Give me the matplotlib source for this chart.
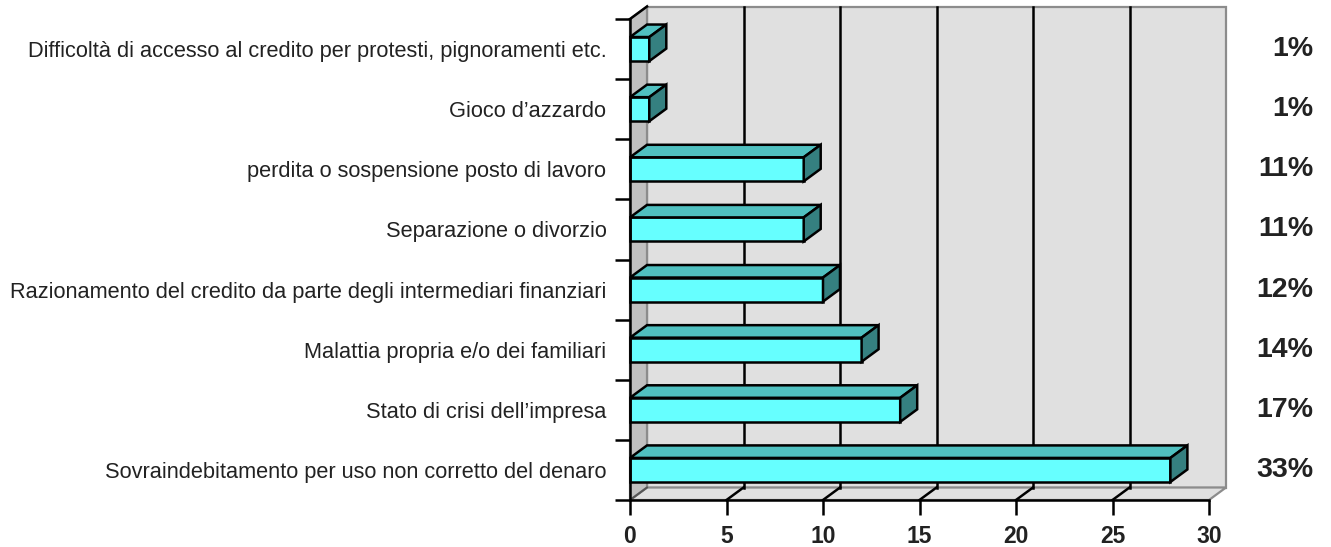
import matplotlib
matplotlib.use("Agg")
import matplotlib.pyplot as plt
from matplotlib.patches import Polygon
from matplotlib.transforms import blended_transform_factory

# ---- data ----
categories = [
    "Sovraindebitamento per uso non corretto del denaro",
    "Stato di crisi dell\u2019impresa",
    "Malattia propria e/o dei familiari",
    "Razionamento del credito da parte degli intermediari finanziari",
    "Separazione o divorzio",
    "perdita o sospensione posto di lavoro",
    "Gioco d\u2019azzardo",
    "Difficolt\u00e0 di accesso al credito per protesti, pignoramenti etc.",
]
values = [28, 14, 12, 10, 9, 9, 1, 1]
percent_labels = ["33%", "17%", "14%", "12%", "11%", "11%", "1%", "1%"]
x_ticks = [0, 5, 10, 15, 20, 25, 30]

plt.rcParams['font.family'] = ['Liberation Sans', 'DejaVu Sans']

W, H = 1331, 547
fig = plt.figure(figsize=(W / 100, H / 100), dpi=100)
fig.patch.set_facecolor('white')

ax_l, ax_r, ax_t, ax_b = 630, 1209, 19, 500
ax = fig.add_axes([ax_l / W, (H - ax_b) / H, (ax_r - ax_l) / W, (ax_b - ax_t) / H])
xmax = 30
n = len(categories)
ax.set_xlim(0, xmax)
ax.set_ylim(-0.5, n - 0.5)
ax.patch.set_visible(False)

# depth offsets (in data units) derived from pixel offsets
px_x = (ax_r - ax_l) / xmax
px_y = (ax_b - ax_t) / n
dx = 17 / px_x
dy = 12.5 / px_y
y0, y1 = -0.5, n - 0.5

wall_col = '#e0e0e0'
side_col = '#c0c0c0'
edge_gray = '#8c8c8c'
LW = 1.8

# back wall
ax.add_patch(Polygon([(dx, y0 + dy), (xmax + dx, y0 + dy), (xmax + dx, y1 + dy), (dx, y1 + dy)],
                     closed=True, facecolor=wall_col, edgecolor=edge_gray, lw=1.6,
                     clip_on=False, zorder=1))
# floor
ax.add_patch(Polygon([(0, y0), (xmax, y0), (xmax + dx, y0 + dy), (dx, y0 + dy)],
                     closed=True, facecolor=wall_col, edgecolor=edge_gray, lw=1.6,
                     clip_on=False, zorder=1))
# left wall
ax.add_patch(Polygon([(0, y0), (dx, y0 + dy), (dx, y1 + dy), (0, y1)],
                     closed=True, facecolor=side_col, edgecolor=edge_gray, lw=1.6,
                     clip_on=False, zorder=1))
ax.plot([0, dx], [y1, y1 + dy], color='black', lw=LW, clip_on=False, zorder=2)

# gridlines on back wall and floor
for v in x_ticks[1:-1]:
    ax.plot([v + dx, v + dx], [y0 + dy, y1 + dy], color='black', lw=LW, clip_on=False, zorder=2)
    ax.plot([v, v + dx], [y0, y0 + dy], color='black', lw=LW, clip_on=False, zorder=2)
ax.plot([0, dx], [y0, y0 + dy], color='#555555', lw=1.4, clip_on=False, zorder=2)

# 3D bars
front_col = '#66ffff'
top_col = '#50c0c0'
side_bar_col = '#358080'
h = 0.2
for i, v in enumerate(values):
    ax.add_patch(Polygon([(0, i - h), (v, i - h), (v, i + h), (0, i + h)], closed=True,
                         facecolor=front_col, edgecolor='black', lw=LW, joinstyle='miter',
                         clip_on=False, zorder=4))
    ax.add_patch(Polygon([(0, i + h), (v, i + h), (v + dx, i + h + dy), (dx, i + h + dy)], closed=True,
                         facecolor=top_col, edgecolor='black', lw=LW, joinstyle='miter',
                         clip_on=False, zorder=4))
    ax.add_patch(Polygon([(v, i - h), (v + dx, i - h + dy), (v + dx, i + h + dy), (v, i + h)], closed=True,
                         facecolor=side_bar_col, edgecolor='black', lw=LW, joinstyle='miter',
                         clip_on=False, zorder=4))

# axes styling
for s in ['top', 'right']:
    ax.spines[s].set_visible(False)
for s in ['left', 'bottom']:
    ax.spines[s].set_color('black')
    ax.spines[s].set_linewidth(LW)
    ax.spines[s].set_zorder(5)

ax.set_xticks(x_ticks)
ax.set_xticklabels([str(t) for t in x_ticks], fontsize=16.5, fontweight='bold', color='#222222')
ax.tick_params(axis='x', direction='out', length=11, width=LW, pad=7)

ax.set_yticks(range(n))
ax.set_yticklabels(categories, fontsize=15.7, color='#222222')
ax.tick_params(axis='y', which='major', length=0, pad=17)
ax.set_yticks([i - 0.5 for i in range(n + 1)], minor=True)
ax.tick_params(axis='y', which='minor', direction='out', length=11, width=LW)

# percentage labels at right
tr = blended_transform_factory(fig.transFigure, ax.transData)
for i, lab in enumerate(percent_labels):
    ax.text(1313 / W, i, lab, transform=tr, ha='right', va='center',
            fontsize=20.5, fontweight='bold', color='#222222')

fig.savefig('out.png', dpi=100, facecolor='white')
